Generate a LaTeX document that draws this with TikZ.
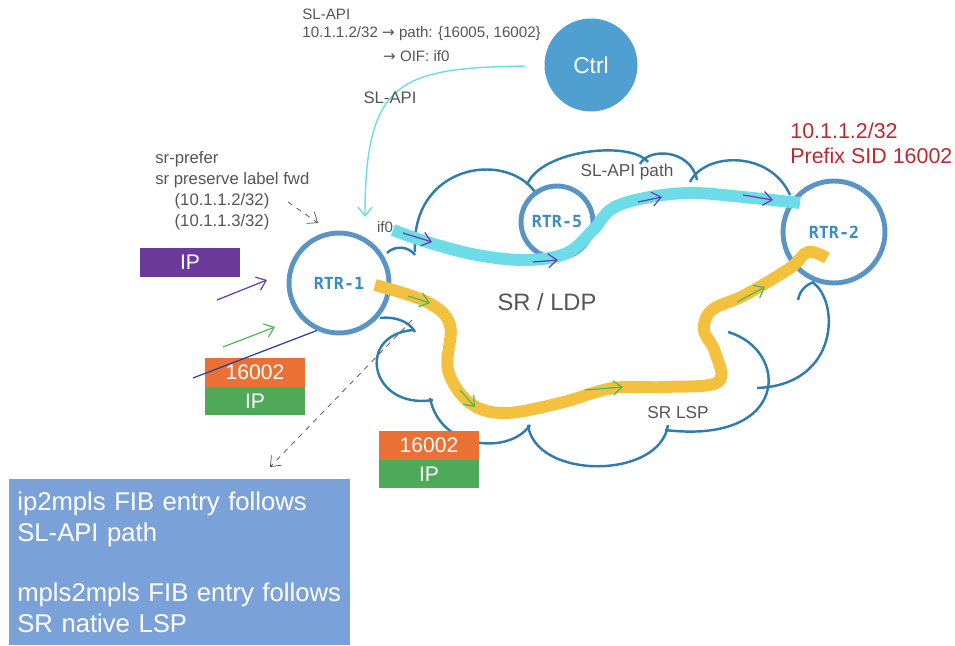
\documentclass[tikz,border=0pt]{standalone}
\usepackage{fontspec}
\setmainfont{Liberation Sans}
\setmonofont{DejaVu Sans Mono}
\newfontfamily\arrowfont{DejaVu Sans}
\newcommand\rarr{{\arrowfont\char"2192}}
\usepackage{xcolor}
\usetikzlibrary{arrows.meta}

\definecolor{rtrblue}{HTML}{5A94C4}
\definecolor{rtrtext}{HTML}{3B8DBD}
\definecolor{cloudblue}{HTML}{2E7DAE}
\definecolor{ctrlblue}{HTML}{4F9FD0}
\definecolor{slcyan}{HTML}{6CDCE8}
\definecolor{lspyellow}{HTML}{F4C13F}
\definecolor{pktpurple}{HTML}{6A3A9A}
\definecolor{pktorange}{HTML}{EA7035}
\definecolor{pktgreen}{HTML}{4EAA58}
\definecolor{arrpurple}{HTML}{6B3DB0}
\definecolor{arrgreen}{HTML}{4CB85C}
\definecolor{linkblue}{HTML}{2C3E99}
\definecolor{noteblue}{HTML}{7BA2D8}
\definecolor{prefixred}{HTML}{C0272D}
\definecolor{txtgray}{HTML}{555555}

\begin{document}
\begin{tikzpicture}[x=0.02cm,y=-0.02cm,node distance=0.58cm,
  >={Straight Barb[length=5pt,width=8pt]},
  rtr/.style={circle,draw=rtrblue,fill=white,line width=2.8pt,text=rtrtext,font=\ttfamily\bfseries\fontsize{9.5}{11}\selectfont},
  pkt/.style={minimum width=2cm,minimum height=0.58cm,inner sep=0pt,text=white,font=\fontsize{12}{14}\selectfont},
  cloudline/.style={draw=cloudblue,line width=1.4pt},
  note/.style={text=txtgray,align=left,inner sep=0pt},
  slpath/.style={draw=slcyan,line width=6.8pt},
  lsp/.style={draw=lspyellow,line width=6.8pt},
  flowmark/.style={->,line width=0.7pt}]
\useasboundingbox (0,0) rectangle (955,645);

\draw[cloudline] (387,253) to[bend left=50] (415,255);
\draw[cloudline] (415,252) .. controls (410,165) and (505,150) .. (535,192);
\draw[cloudline] (527,185) .. controls (540,150) and (630,140) .. (648,162);
\draw[cloudline] (640,164) .. controls (648,148) and (690,148) .. (697,180);
\draw[cloudline] (690,182) .. controls (705,152) and (770,150) .. (790,195);
\draw[cloudline] (798,300) to[bend left=30] (814,282);
\draw[cloudline] (812,282) .. controls (840,300) and (840,385) .. (757,388);
\draw[cloudline] (728,332) .. controls (790,350) and (790,445) .. (665,430);
\draw[cloudline] (668,425) .. controls (660,480) and (535,480) .. (528,425);
\draw[cloudline] (530,425) .. controls (510,455) and (440,450) .. (430,398);
\draw[cloudline] (433,400) .. controls (370,410) and (355,335) .. (413,330);
\draw[cloudline] (380,318) .. controls (395,316) and (410,322) .. (415,332);

\node[rtr,minimum size=2cm] (R1) at (339,283) {RTR-1};
\node[rtr,minimum size=1.44cm] (R5) at (557,222) {RTR-5};
\node[rtr,minimum size=2.04cm] (R2) at (834,232) {RTR-2};
\node[circle,fill=ctrlblue,minimum size=1.86cm,text=white,font=\fontsize{13}{15}\selectfont] (Ctrl) at (591,65) {Ctrl};

\coordinate (if0) at (393,230);
\coordinate (r2in) at (800,203);
\coordinate (lspA) at (375,285);
\coordinate (lspB) at (827,258);
\coordinate (apiin) at (365,217);

\draw[slpath] plot[smooth,tension=0.6] coordinates {(if0) (427,242) (477,255) (527,260) (567,253) (593,230) (613,208) (650,197) (693,193) (743,197) (r2in)};
\draw[lsp] plot[smooth,tension=0.6] coordinates {(lspA) (427,302) (450,325) (448,370) (470,403) (505,413) (560,403) (613,388) (665,387) (718,382) (715,352) (704,330) (712,310) (745,295) (790,268) (808,252) (lspB)};

\draw[flowmark,arrpurple] (403,233) -- (432,242);
\draw[flowmark,arrpurple] (533,262) -- (558,260);
\draw[flowmark,arrpurple] (638,202) -- (662,197);
\draw[flowmark,arrpurple] (743,195) -- (773,200);
\draw[flowmark,arrgreen] (408,296) -- (430,303);
\draw[flowmark,arrgreen] (460,390) -- (475,407);
\draw[flowmark,arrgreen] (585,390) -- (623,387);
\draw[flowmark,arrgreen] (737,302) -- (765,287);

\draw[->,slcyan,line width=0.8pt,shorten <=11pt] (Ctrl) .. controls (400,68) and (365,80) .. (apiin);

\node[note,anchor=north west,font=\fontsize{8.6}{9.8}\selectfont] (api) at (302,9)
  {SL-API\\10.1.1.2/32 \rarr{} path: \{16005, 16002\}\\[4pt]\hspace*{46pt}\rarr{} OIF: if0};
\node[note,font=\fontsize{9.5}{11}\selectfont] (apilbl) at (390,98) {SL-API};
\node[note,anchor=north west,font=\fontsize{9.5}{12}\selectfont] (prefer) at (155,151)
  {sr-prefer\\sr preserve label fwd\\\hspace*{11pt}(10.1.1.2/32)\\\hspace*{11pt}(10.1.1.3/32)};
\draw[->,dashed,black!70] (288,202) -- (318,223);
\node[note,font=\fontsize{8.6}{10}\selectfont] (if0lbl) at (385,227) {if0};

\node[note,font=\fontsize{13.5}{15}\selectfont] (srldp) at (547,302) {SR / LDP};
\node[note,font=\fontsize{9.8}{11}\selectfont] (slpathlbl) at (627,172) {SL-API path};
\node[note,font=\fontsize{9.8}{11}\selectfont] (srlsp) at (678,413) {SR LSP};
\node[note,anchor=north west,text=prefixred,font=\fontsize{12.2}{14.2}\selectfont] (prefix) at (790,123)
  {10.1.1.2/32\\Prefix SID 16002};

\node[pkt,fill=pktpurple] (ipA) at (190,262.5) {IP};
\node[pkt,fill=pktorange] (lblA) at (255,372) {16002};
\node[pkt,fill=pktgreen] (ipB) [below of = lblA] {IP};
\node[pkt,fill=pktorange] (lblB) at (429,445) {16002};
\node[pkt,fill=pktgreen] (ipC) [below of = lblB] {IP};

\coordinate (inIP) at (217,300);
\coordinate (inLbl) at (223,347);
\coordinate (inLink) at (193,378);
\draw[->,arrpurple,line width=0.7pt] (inIP) -- (267,280);
\draw[->,arrgreen,line width=0.7pt] (inLbl) -- (275,327);
\draw[linkblue,line width=0.7pt] (inLink) -- (R1.245);

\node[fill=noteblue,text=white,anchor=north west,minimum width=6.82cm,minimum height=3.32cm,
  text width=6.5cm,align=left,inner xsep=0.16cm,font=\fontsize{14.6}{17.8}\selectfont] (fib) at (9,479)
  {ip2mpls FIB entry follows\\SL-API path\\[16pt]mpls2mpls FIB entry follows\\SR native LSP};
\draw[->,dashed,black!70] (412,320) -- (270,467);

\end{tikzpicture}
\end{document}
